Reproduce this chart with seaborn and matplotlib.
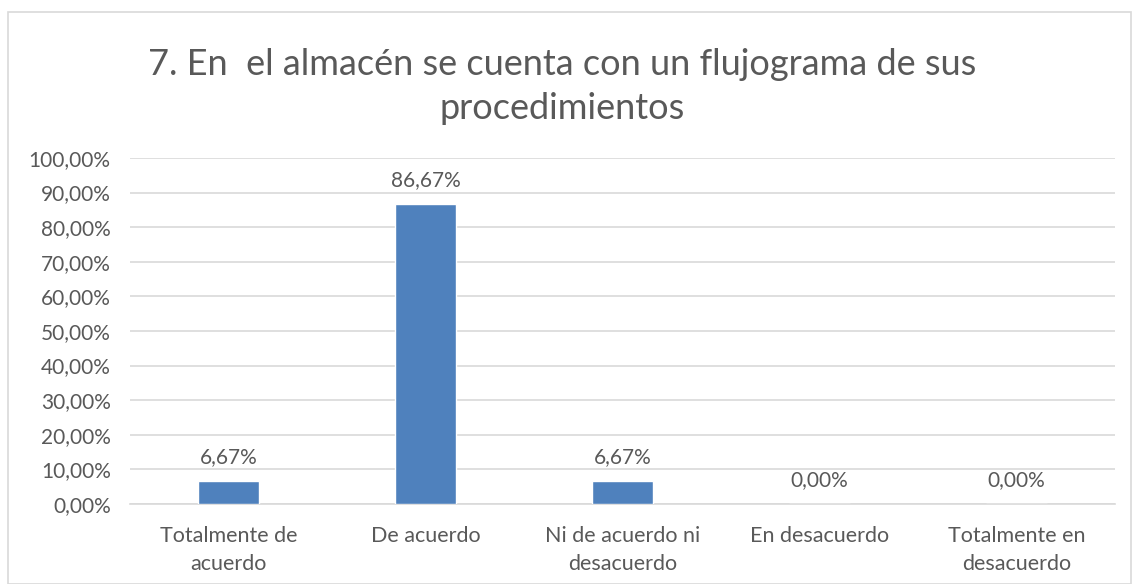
import pandas as pd
import numpy as np
import matplotlib
matplotlib.use("Agg")
import matplotlib.pyplot as plt
from matplotlib.patches import Rectangle
from matplotlib.ticker import FuncFormatter, MultipleLocator
import seaborn as sns

#### data
categorias = ["Totalmente de\nacuerdo", "De acuerdo", "Ni de acuerdo ni\ndesacuerdo",
              "En desacuerdo", "Totalmente en\ndesacuerdo"]
porcentajes = [6.67, 86.67, 6.67, 0.0, 0.0]
titulo = "7. En  el almacén se cuenta con un flujograma de sus\nprocedimientos"

df = pd.DataFrame({"cat": categorias, "pct": porcentajes})

sns.set_style("white")
plt.rcParams["font.family"] = ["Lato", "DejaVu Sans"]
txt = "#595959"

fig = plt.figure(figsize=(11.32, 5.84), dpi=100)
ax = fig.add_axes([0.115, 0.137, 0.87, 0.5925])

sns.barplot(data=df, x="cat", y="pct", color="#4F81BD", width=0.31,
            saturation=1, ax=ax, zorder=3)

ax.set_ylim(0, 100)
ax.yaxis.set_major_locator(MultipleLocator(10))
ax.yaxis.set_major_formatter(FuncFormatter(lambda v, p: f"{v:.2f}%".replace(".", ",")))
ax.grid(axis="y", color="#d9d9d9", linewidth=1.2, zorder=0)
ax.set_axisbelow(True)
for s in ["top", "right", "left"]:
    ax.spines[s].set_visible(False)
ax.spines["bottom"].set_color("#d9d9d9")
ax.spines["bottom"].set_linewidth(1.2)
ax.tick_params(axis="both", length=0, colors=txt)
ax.tick_params(axis="x", pad=15.5, labelsize=15.5)
ax.tick_params(axis="y", pad=14, labelsize=15)
for lab in ax.get_xticklabels():
    lab.set_linespacing(1.5)
ax.set_xlabel("")
ax.set_ylabel("")

for i, v in enumerate(porcentajes):
    ax.annotate(f"{v:.2f}%".replace(".", ","), (i, v), xytext=(0, 17),
                textcoords="offset points", ha="center", va="center",
                color=txt, fontsize=15)

fig.text(0.497, 0.852, titulo, ha="center", va="center", fontsize=26,
         color=txt, linespacing=1.42)

fig.patches.append(Rectangle((8 / 1132, 0), 1 - 9 / 1132, 1 - 12 / 584,
                             transform=fig.transFigure, fill=False,
                             edgecolor="#d9d9d9", linewidth=1.2))

fig.savefig("out.png", dpi=100)
